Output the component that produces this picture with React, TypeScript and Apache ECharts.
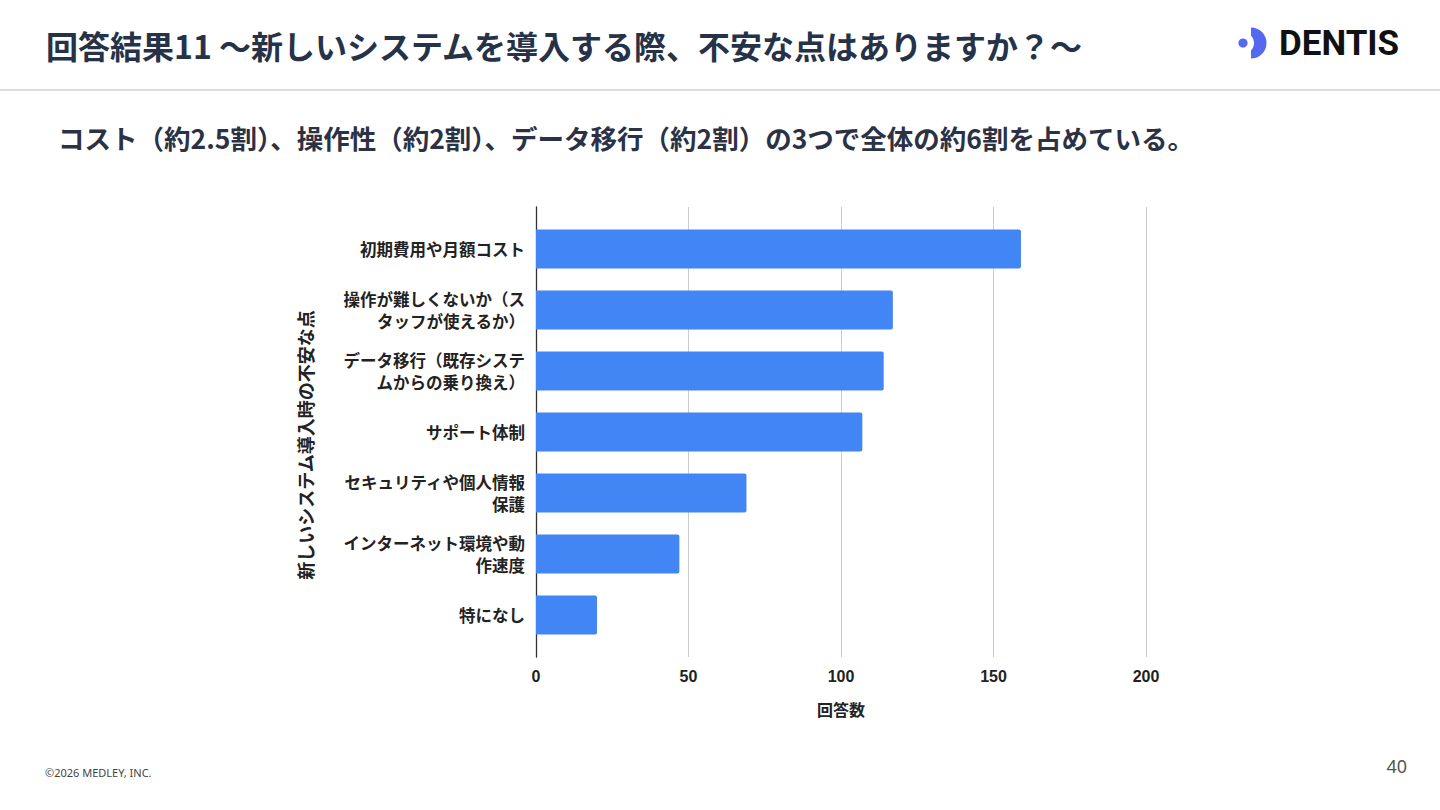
import React, { useEffect, useRef } from "react";
import * as echarts from "echarts";

const categories = [
  "初期費用や月額コスト",
  "操作が難しくないか（スタッフが使えるか）",
  "データ移行（既存システムからの乗り換え）",
  "サポート体制",
  "セキュリティや個人情報保護",
  "インターネット環境や動作速度",
  "特になし",
];
const values = [159, 117, 114, 107, 69, 47, 20];
const xTicks = { min: 0, max: 200, interval: 50 };

const titleText = "回答結果11 〜新しいシステムを導入する際、不安な点はありますか？〜";
const subtitleText = "コスト（約2.5割）、操作性（約2割）、データ移行（約2割）の3つで全体の約6割を占めている。";
const xAxisName = "回答数";
const yAxisName = "新しいシステム導入時の不安な点";
const footerText = "©2026 MEDLEY, INC.";
const pageNumber = "40";

const JP = '"Noto Sans CJK JP", "Noto Sans", sans-serif';
const NUM = '"Liberation Sans", Arial, sans-serif';

function wrap(s: string, n: number): string {
  const out: string[] = [];
  for (let i = 0; i < s.length; i += n) out.push(s.slice(i, i + n));
  return out.join("\n");
}

export default function App() {
  const ref = useRef<HTMLDivElement>(null);
  useEffect(() => {
    if (!ref.current) return;
    const chart = echarts.init(ref.current, null, { renderer: "svg" });
    const option: any = {
      animation: false,
      backgroundColor: "#ffffff",
      grid: [
        { left: 536, top: 207, width: 610, height: 450 },
        { left: 536, top: 218.5, width: 610, height: 427 },
      ],
      xAxis: [
        {
          gridIndex: 0,
          type: "value",
          min: xTicks.min,
          max: xTicks.max,
          interval: xTicks.interval,
          axisLine: { show: false },
          axisTick: { show: false },
          splitLine: { show: true, lineStyle: { color: "#cccccc", width: 1 } },
          axisLabel: {
            margin: 11,
            fontFamily: NUM,
            fontWeight: "bold",
            fontSize: 16,
            color: "#222222",
          },
          name: xAxisName,
          nameLocation: "middle",
          nameGap: 44,
          nameTextStyle: {
            fontFamily: JP,
            fontWeight: "bold",
            fontSize: 16,
            color: "#222222",
          },
        },
        {
          gridIndex: 1,
          type: "value",
          min: xTicks.min,
          max: xTicks.max,
          interval: xTicks.interval,
          show: false,
        },
      ],
      yAxis: [
        {
          gridIndex: 0,
          type: "value",
          min: 0,
          max: 1,
          axisLine: { show: true, lineStyle: { color: "#333333", width: 1.3 } },
          axisTick: { show: false },
          axisLabel: { show: false },
          splitLine: { show: false },
        },
        {
          gridIndex: 1,
          type: "category",
          inverse: true,
          data: categories,
          axisLine: { show: false },
          axisTick: { show: false },
          splitLine: { show: false },
          axisLabel: {
            margin: 11,
            align: "right",
            fontFamily: JP,
            fontWeight: "bold",
            fontSize: 16.5,
            lineHeight: 22,
            color: "#222222",
            formatter: (v: string) => wrap(v, 11),
          },
        },
      ],
      series: [
        {
          type: "bar",
          xAxisIndex: 1,
          yAxisIndex: 1,
          data: values,
          barWidth: 39,
          itemStyle: { color: "#4285F4", borderRadius: [0, 2, 2, 0] },
        },
      ],
      graphic: [
        {
          type: "text",
          x: 46,
          y: 45,
          style: {
            text: titleText,
            font: `bold 32px ${JP}`,
            fill: "#263248",
            verticalAlign: "middle",
          },
        },
        {
          type: "line",
          shape: { x1: 0, y1: 90, x2: 1440, y2: 90 },
          style: { stroke: "#dddddd", lineWidth: 2 },
        },
        {
          type: "text",
          x: 58,
          y: 137,
          style: {
            text: subtitleText,
            font: `bold 26.5px ${JP}`,
            fill: "#2b3245",
            verticalAlign: "middle",
          },
        },
        {
          type: "sector",
          shape: { cx: 1251, cy: 43, r: 15.5, r0: 0, startAngle: -Math.PI / 2, endAngle: Math.PI / 2, clockwise: true },
          style: { fill: "#5468F0" },
        },
        {
          type: "circle",
          shape: { cx: 1243, cy: 43, r: 11 },
          style: { fill: "#ffffff" },
        },
        {
          type: "circle",
          shape: { cx: 1243, cy: 43, r: 4.6 },
          style: { fill: "#5468F0" },
        },
        {
          type: "text",
          x: 1279,
          y: 43,
          style: {
            text: "DENTIS",
            font: 'bold 35px Roboto, "Noto Sans", sans-serif',
            fill: "#111111",
            verticalAlign: "middle",
            align: "left",
          },
        },
        {
          type: "text",
          x: 305,
          y: 445,
          rotation: Math.PI / 2,
          style: {
            text: yAxisName,
            font: `bold 18px ${JP}`,
            fill: "#222222",
            align: "center",
            verticalAlign: "middle",
          },
        },
        {
          type: "text",
          x: 45,
          y: 772,
          style: {
            text: footerText,
            font: '11px "Noto Sans", sans-serif',
            fill: "#444444",
            verticalAlign: "middle",
          },
        },
        {
          type: "text",
          x: 1407,
          y: 766,
          style: {
            text: pageNumber,
            font: '18px "Noto Sans", sans-serif',
            fill: "#555555",
            align: "right",
            verticalAlign: "middle",
          },
        },
      ],
    };
    chart.setOption(option);
    return () => chart.dispose();
  }, []);
  return (
    <div
      ref={ref}
      style={{ position: "fixed", left: 0, top: 0, width: 1440, height: 810, background: "#fff" }}
    />
  );
}
